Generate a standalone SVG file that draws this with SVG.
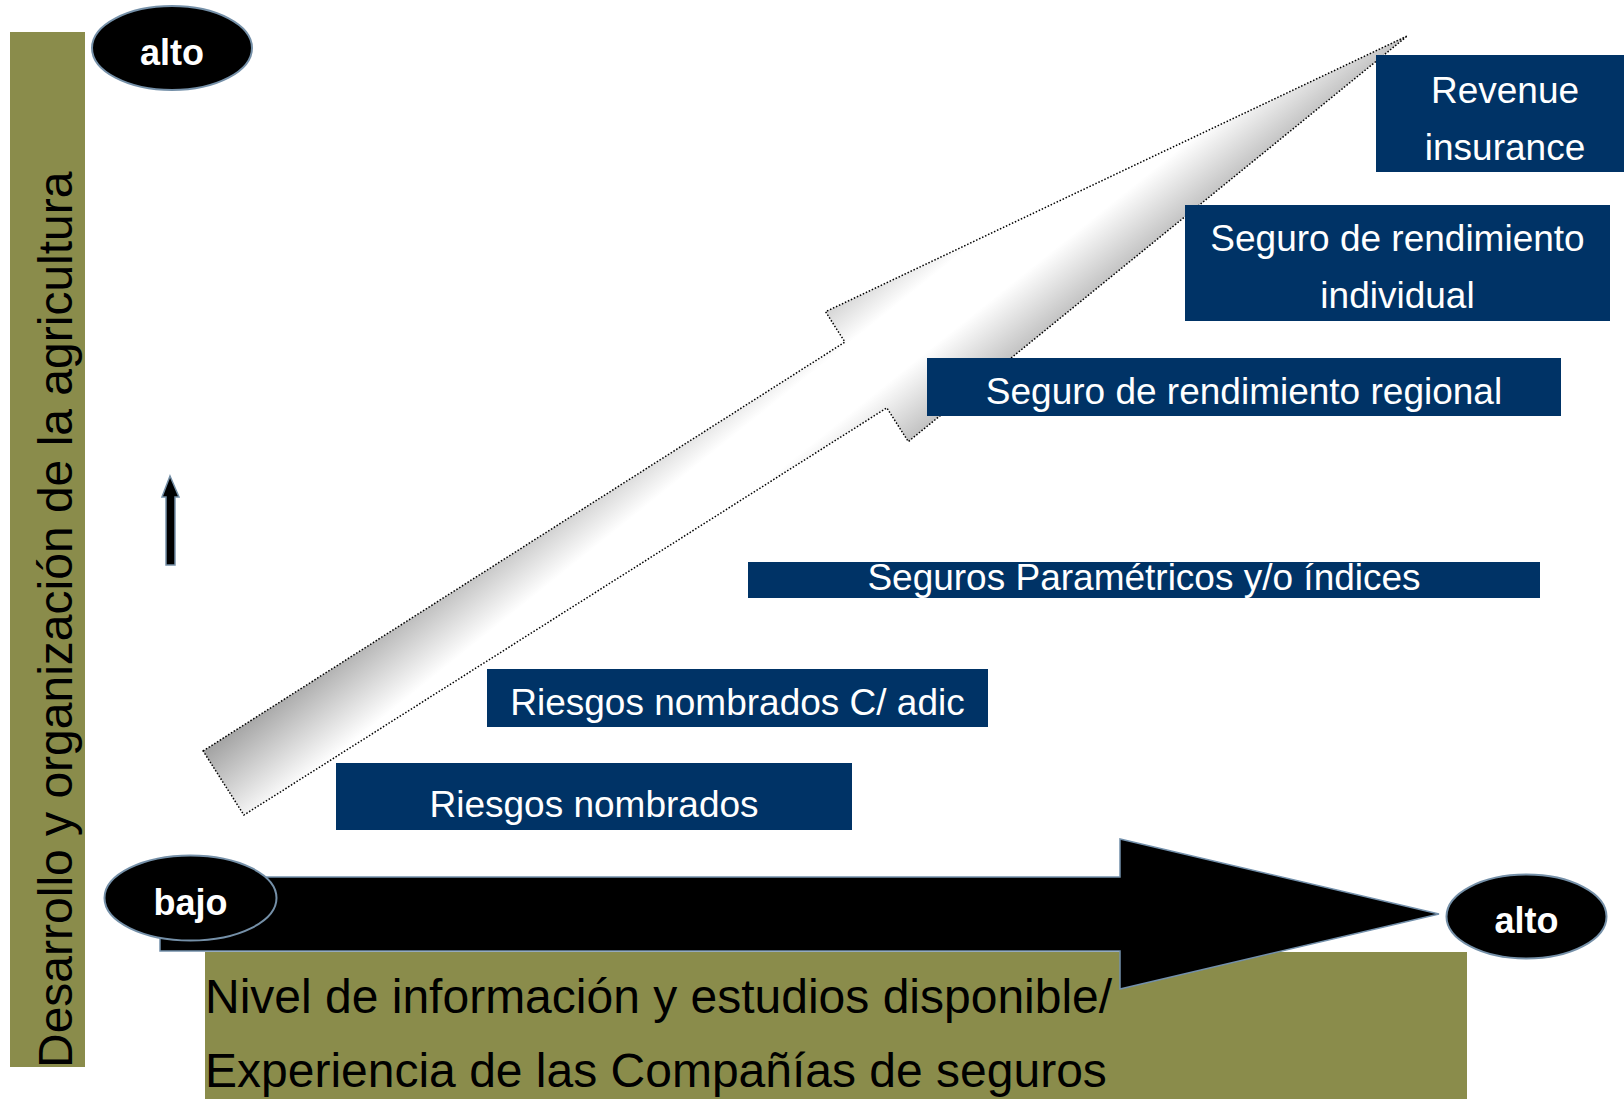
<svg xmlns="http://www.w3.org/2000/svg" width="1624" height="1099" viewBox="0 0 1624 1099">
<style>
.olive{fill:#8a8c4b}
.box{fill:#003366}
.bt{font-family:"Liberation Sans",Arial,sans-serif;font-size:37px;fill:#ffffff;text-anchor:middle}
.big{font-family:"Liberation Sans",Arial,sans-serif;font-size:48px;fill:#000000}
.oval{fill:#000000;stroke:#7590a8;stroke-width:2}
.ot{font-family:"Liberation Sans",Arial,sans-serif;font-size:36px;font-weight:bold;fill:#ffffff;text-anchor:middle}
</style>
<defs>
<linearGradient id="ag" x1="0" y1="0" x2="1" y2="1">
<stop offset="0" stop-color="#7a7a7a"/>
<stop offset="0.4" stop-color="#ffffff"/>
<stop offset="0.58" stop-color="#ffffff"/>
<stop offset="1" stop-color="#7a7a7a"/>
</linearGradient>
</defs>
<rect width="1624" height="1099" fill="#ffffff"/>

<g id="y-axis-bar">
<rect class="olive" x="10" y="32" width="75" height="1035"/>
<text class="big" transform="translate(72,1068) rotate(-90)">Desarrollo y organización de la agricultura</text>
</g>

<g id="x-axis-bar">
<rect class="olive" x="205" y="952" width="1262" height="147"/>
<text class="big" x="205" y="1013">Nivel de información y estudios disponible/</text>
<text class="big" x="205" y="1087">Experiencia de las Compañías de seguros</text>
</g>

<g id="connectors">
<g id="progress-arrow" transform="translate(223.5,783) rotate(-32.5)">
<polygon points="0,-38 761,-38 761,-74 1400,6 761,80 761,40 0,38" fill="url(#ag)" stroke="#000000" stroke-width="1.5" stroke-dasharray="1.5 1.8"/>
</g>
<polygon id="x-arrow" points="160,877 1120,877 1120,839 1439,914 1120,989 1120,951 160,951" fill="#000000" stroke="#7390ab" stroke-width="1.5"/>
<polygon id="small-arrow" points="170,476 179,497 175,497 175,565 166,565 166,497 162,497" fill="#000000" stroke="#7590a8" stroke-width="1.5"/>
</g>

<g id="oval-alto-top">
<ellipse class="oval" cx="172" cy="48" rx="80" ry="42"/>
<text class="ot" x="172" y="65">alto</text>
</g>
<g id="oval-bajo">
<ellipse class="oval" cx="190.5" cy="898" rx="86" ry="42.5"/>
<text class="ot" x="190.5" y="915">bajo</text>
</g>
<g id="oval-alto-right">
<ellipse class="oval" cx="1526.5" cy="916.5" rx="80" ry="42"/>
<text class="ot" x="1526.5" y="933">alto</text>
</g>

<g id="box-riesgos">
<rect class="box" x="336" y="763" width="516" height="67"/>
<text class="bt" x="594" y="817">Riesgos nombrados</text>
</g>
<g id="box-riesgos-adic">
<rect class="box" x="487" y="669" width="501" height="58"/>
<text class="bt" x="737.5" y="715">Riesgos nombrados C/ adic</text>
</g>
<g id="box-parametricos">
<rect class="box" x="748" y="562" width="792" height="36"/>
<text class="bt" x="1144" y="590">Seguros Paramétricos y/o índices</text>
</g>
<g id="box-regional">
<rect class="box" x="927" y="358" width="634" height="58"/>
<text class="bt" x="1244" y="404">Seguro de rendimiento regional</text>
</g>
<g id="box-individual">
<rect class="box" x="1185" y="205" width="425" height="116"/>
<text class="bt" x="1397.5" y="251">Seguro de rendimiento</text>
<text class="bt" x="1397.5" y="308">individual</text>
</g>
<g id="box-revenue">
<rect class="box" x="1376" y="55" width="258" height="117"/>
<text class="bt" x="1505" y="103">Revenue</text>
<text class="bt" x="1505" y="160">insurance</text>
</g>
</svg>
